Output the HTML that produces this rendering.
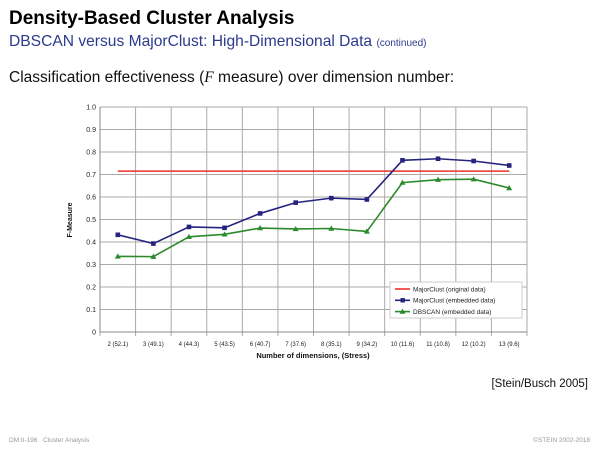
<!DOCTYPE html>
<html><head><meta charset="utf-8"><style>
body{margin:0;width:600px;height:450px;background:#fff;font-family:"Liberation Sans",sans-serif;position:relative;overflow:hidden}
.t{position:absolute;white-space:nowrap}
</style></head><body>
<div class="t" style="left:9px;top:8px;font-size:19px;font-weight:bold;color:#000">Density-Based Cluster Analysis</div>
<div class="t" style="left:9px;top:33px;font-size:15.6px;color:#2b3a8c">DBSCAN versus MajorClust: High-Dimensional Data <span style="font-size:10px">(continued)</span></div>
<div class="t" style="left:9px;top:69px;font-size:15.5px;color:#111">Classification effectiveness (<i style="font-family:'Liberation Serif',serif">F</i> measure) over dimension number:</div>
<svg id="chart" width="600" height="450" style="position:absolute;left:0;top:0" font-family="Liberation Sans, sans-serif"></svg>
<div class="t" style="right:12px;top:378px;font-size:11.5px;color:#111">[Stein/Busch 2005]</div>
<div class="t" style="left:9px;top:437px;font-size:6.5px;color:#999">DM:II-196 &nbsp; Cluster Analysis</div>
<div class="t" style="right:10px;top:437px;font-size:6.5px;color:#999">©STEIN 2002-2018</div>
<script>
const categories=["2 (52.1)","3 (49.1)","4 (44.3)","5 (43.5)","6 (40.7)","7 (37.6)","8 (35.1)","9 (34.2)","10 (11.6)","11 (10.8)","12 (10.2)","13 (9.6)"];
const majorOriginal=[0.715,0.715,0.715,0.715,0.715,0.715,0.715,0.715,0.715,0.715,0.715,0.715];
const majorEmbedded=[0.432,0.393,0.467,0.463,0.527,0.575,0.595,0.589,0.763,0.770,0.760,0.740];
const dbscan=[0.336,0.335,0.423,0.434,0.462,0.458,0.460,0.447,0.664,0.677,0.679,0.640];
const yTicks=["0","0.1","0.2","0.3","0.4","0.5","0.6","0.7","0.8","0.9","1.0"];
const NS="http://www.w3.org/2000/svg",svg=document.getElementById('chart');
const L=100,R=527,T=107,B=332,bw=(R-L)/categories.length;
const x=i=>L+bw*(i+0.5), y=v=>B-(B-T)*v;
function mk(t,a,p){const e=document.createElementNS(NS,t);for(const k in a)e.setAttribute(k,a[k]);(p||svg).appendChild(e);return e;}
for(let i=0;i<yTicks.length;i++){const v=+yTicks[i];
 const g=mk('line',{x1:L,x2:R,y1:y(v),y2:y(v),stroke:'#aaa','stroke-width':1});
 
 
 const t=mk('text',{x:L-4,y:y(v)+2.5,'font-size':7,'text-anchor':'end',fill:'#222'});t.textContent=yTicks[i];
 
 
}
for(let i=0;i<=categories.length;i++){
 const g=mk('line',{x1:L+bw*i,x2:L+bw*i,y1:T,y2:B+4,stroke:'#aaa','stroke-width':1});
 
 
}
categories.forEach((c,i)=>{const t=mk('text',{x:x(i),y:B+14,'font-size':6,'text-anchor':'middle',fill:'#222'});t.textContent=c;
 
 });
mk('line',{x1:L,x2:L,y1:T,y2:B,stroke:'#888'});mk('line',{x1:L,x2:R,y1:B,y2:B,stroke:'#888'});
let t=mk('text',{x:313,y:358,'font-size':7.5,'font-weight':'bold','text-anchor':'middle',fill:'#111'});t.textContent='Number of dimensions, (Stress)';


t=mk('text',{x:72,y:220,'font-size':7,'font-weight':'bold','text-anchor':'middle',fill:'#111',transform:'rotate(-90 72 220)'});t.textContent='F-Measure';


function line(vals,col,name){const p=mk('polyline',{points:vals.map((v,i)=>x(i)+','+y(v)).join(' '),fill:'none',stroke:col,'stroke-width':1.6});
 
 }
line(majorOriginal,'#f0302a','majorclust-original-line');
line(majorEmbedded,'#26237f','majorclust-embedded-line');
line(dbscan,'#2b8a2b','dbscan-line');
majorEmbedded.forEach((v,i)=>{const m=mk('rect',{x:x(i)-2.3,y:y(v)-2.3,width:4.6,height:4.6,fill:'#26237f'});
 
 });
dbscan.forEach((v,i)=>{const m=mk('polygon',{points:`${x(i)},${y(v)-3} ${x(i)-3},${y(v)+2.2} ${x(i)+3},${y(v)+2.2}`,fill:'#2b8a2b'});
 
 });
const lg=mk('g',{});


mk('rect',{x:390,y:282,width:132,height:36,fill:'#fff',stroke:'#ccc'},lg);
[['MajorClust (original data)','#f0302a',0],['MajorClust (embedded data)','#26237f',1],['DBSCAN (embedded data)','#2b8a2b',2]].forEach(([n,c,k])=>{
 const yy=289+k*11.3;
 mk('line',{x1:395,x2:410,y1:yy,y2:yy,stroke:c,'stroke-width':1.6},lg);
 if(k==1)mk('rect',{x:400.5,y:yy-2.2,width:4.4,height:4.4,fill:c},lg);
 if(k==2)mk('polygon',{points:`402.5,${yy-3} 399.5,${yy+2.2} 405.5,${yy+2.2}`,fill:c},lg);
 const tx=mk('text',{x:413,y:yy+2.4,'font-size':6.5,fill:'#222'},lg);tx.textContent=n;
 
 
});
</script>
</body></html>
